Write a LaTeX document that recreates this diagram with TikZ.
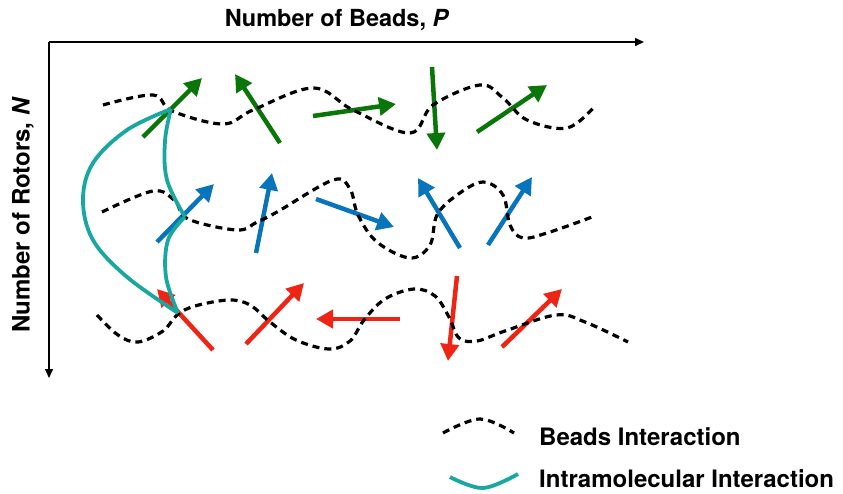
\documentclass[tikz,border=0pt]{standalone}
\usepackage{fontspec}
\setmainfont{TeX Gyre Heros}
\usetikzlibrary{arrows.meta}
\definecolor{spingreen}{RGB}{10,118,10}
\definecolor{spinblue}{RGB}{8,116,188}
\definecolor{spinred}{RGB}{238,36,20}
\definecolor{bondteal}{RGB}{24,168,160}
\tikzset{
  axis/.style={line width=1.5pt, -{Triangle[length=9pt,width=8pt]}},
  spin/.style={line width=4.5pt, -{Triangle[length=17pt,width=18pt]}},
  beads/.style={line width=3.2pt, dash pattern=on 7pt off 5pt, smooth, tension=0.6},
  intra/.style={line width=3.8pt, bondteal, smooth, tension=0.6},
  label/.style={font=\fontsize{24}{28}\selectfont\bfseries, inner sep=0pt},
}
\begin{document}
\begin{tikzpicture}[x=1pt,y=-1pt]
\useasboundingbox (0,0) rectangle (843,493);

% axes
\coordinate (origin) at (49,42);
\coordinate (pend) at (644,42);
\coordinate (nend) at (49,378);
\draw[axis] (origin) -- (pend);
\draw[axis] (origin) -- (nend);
\node[label, font=\fontsize{23.5}{28}\selectfont\bfseries] (ptitle) at (337,20) {Number of Beads, \textit{P}};
\node[label, rotate=90] (ntitle) at (23,215) {Number of Rotors, \textit{N}};

% rotor row 1
\begin{scope}[spin, spingreen]
\draw (143,137) -- (202,78);
\draw (280,143) -- (235,74);
\draw (313,116) -- (396,104);
\draw (432,67) -- (437,150);
\draw (477,132) -- (547,85);
\end{scope}

% rotor row 2
\begin{scope}[spin, spinblue]
\draw (157,242) -- (214,184);
\draw (256,253) -- (272,173);
\draw (316,199) -- (394,227);
\draw (460,248) -- (418,178);
\draw (488,245) -- (532,177);
\end{scope}

% rotor row 3
\begin{scope}[spin, spinred]
\draw (213,350) -- (157,289);
\draw (246,344) -- (304,283);
\draw (400,319) -- (316,319);
\draw (457,276) -- (448,361);
\draw (502,347) -- (562,289);
\end{scope}

% bead interactions along each rotor
\draw[beads] plot coordinates {(103,105) (153,95) (172,111) (223,124) (253,110) (313,88) (353,110) (410,133) (433,105) (480,85) (503,98) (527,120) (567,128) (594,107)};
\draw[beads] plot coordinates {(102,212) (153,191) (175,201) (188,219) (237,230) (257,222) (277,212) (333,180) (350,189) (358,215) (377,242) (410,258) (430,245) (437,215) (457,195) (483,182) (503,195) (510,225) (523,238) (550,232) (592,217)};
\draw[beads] plot coordinates {(97,315) (118,335) (138,342) (163,331) (177,315) (195,306) (229,300) (250,305) (270,322) (296,340) (329,349) (350,341) (364,320) (385,299) (414,289) (435,296) (449,317) (459,338) (477,341) (505,331) (556,315) (585,322) (628,342)};

% intramolecular interactions between rotors
\coordinate (r1) at (171,109);
\coordinate (r2) at (185,217);
\coordinate (r3) at (178,313);
\draw[intra] plot coordinates {(r1) (127,130) (93,163) (83,200) (93,240) (127,277) (r3)};
\draw[intra] plot coordinates {(r1) (165,141) (167,180) (r2)};
\draw[intra] plot coordinates {(r2) (168,240) (166,277) (r3)};

% legend
\draw[beads] plot coordinates {(443,433) (480,419) (514,433)};
\node[label, anchor=west] (lbeads) at (539,437) {Beads Interaction};
\draw[intra] plot coordinates {(450,477) (483,488) (518,474)};
\node[label, anchor=west] (lintra) at (539,479) {Intramolecular Interaction};
\end{tikzpicture}
\end{document}
